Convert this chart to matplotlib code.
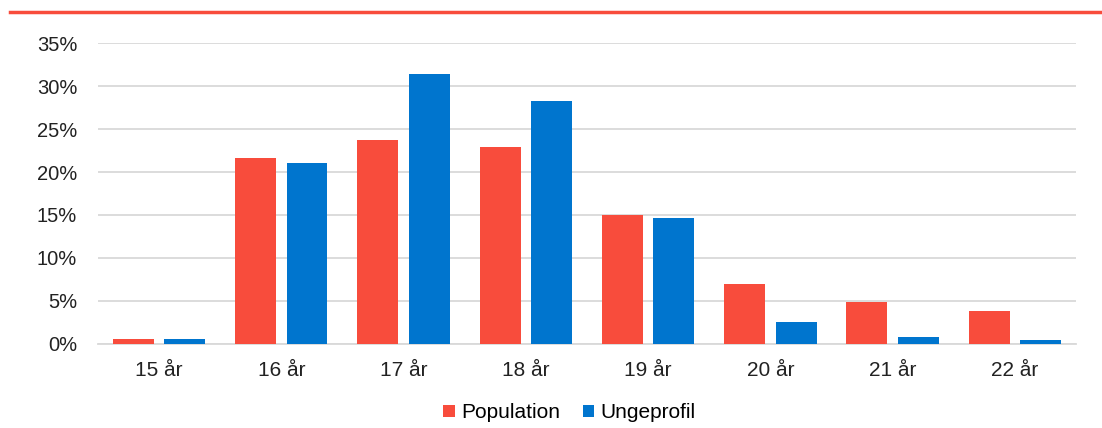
import numpy as np
import matplotlib.pyplot as plt
from matplotlib.lines import Line2D
from matplotlib.ticker import PercentFormatter

# data
categories = ["15 år", "16 år", "17 år", "18 år", "19 år", "20 år", "21 år", "22 år"]
population = [0.6, 21.6, 23.7, 22.9, 15.0, 7.0, 4.9, 3.8]
ungeprofil = [0.6, 21.0, 31.4, 28.3, 14.7, 2.6, 0.8, 0.5]
series_names = ["Population", "Ungeprofil"]

RED = "#F84C3C"
BLUE = "#0075CE"
GRID = "#D9D9D9"

plt.rcParams['font.family'] = ['Liberation Sans', 'DejaVu Sans']

fig = plt.figure(figsize=(11.02, 4.28), dpi=100)
ax = fig.add_axes([0.0889, 0.1963, 0.8875, 0.7032])

x = np.arange(len(categories))
w = 0.335
ax.bar(x - 0.21, population, w, color=RED, label=series_names[0], zorder=3)
ax.bar(x + 0.21, ungeprofil, w, color=BLUE, label=series_names[1], zorder=3)

ax.set_xlim(-0.5, len(categories) - 0.5)
ax.set_ylim(0, 35)
ax.set_yticks(np.arange(0, 36, 5))
ax.yaxis.set_major_formatter(PercentFormatter(decimals=0))
ax.set_xticks(x)
ax.set_xticklabels(categories)
ax.grid(axis="y", color=GRID, linewidth=1.3, zorder=0)
ax.tick_params(length=0, colors="#222222")
ax.tick_params(axis="y", pad=15, labelsize=14.5)
ax.tick_params(axis="x", pad=12, labelsize=15)
for s in ["top", "right", "left"]:
    ax.spines[s].set_visible(False)
ax.spines["bottom"].set_color(GRID)
ax.spines["bottom"].set_linewidth(1.3)

ax.legend(loc="center", bbox_to_anchor=(0.482, -0.229), ncol=2, frameon=False,
          fontsize=15, handlelength=0.55, handleheight=0.55, handletextpad=0.3,
          columnspacing=1.1)

# red rule across the top
fig.add_artist(Line2D([10 / 1102, 1100 / 1102], [1 - 12 / 428, 1 - 12 / 428],
                      color=RED, linewidth=2.5, transform=fig.transFigure))

fig.savefig("out.png", dpi=100)
